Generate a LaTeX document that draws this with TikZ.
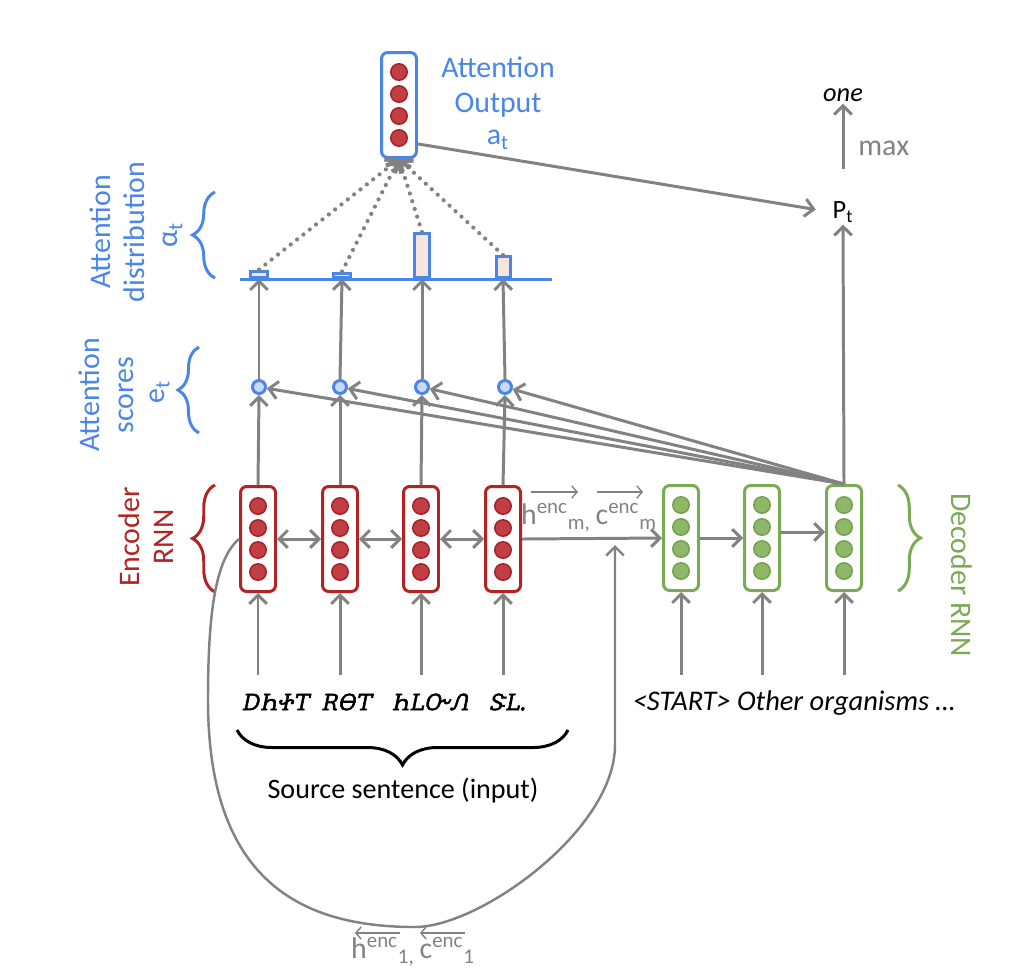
\documentclass[tikz,border=0pt]{standalone}
\usepackage{fontspec}
\setmainfont{Carlito}
\IfFontExistsTF{Noto Sans Cherokee}{%
  \newfontfamily\cherfont{Noto Sans Cherokee}[FakeSlant=0.2,FakeBold=2.5]%
  \newcommand\wordA{ᎠᏂᏐᎢ}\newcommand\wordB{ᎡᎾᎢ}\newcommand\wordC{ᏂᏞᏅᏁ}\newcommand\wordD{ᏕᏞ.}%
}{%
  \newfontfamily\cherfont{DejaVu Sans}[FakeSlant=0.2,FakeBold=2.5]%
  \newcommand\wordA{Dh+T}\newcommand\wordB{RΘT}\newcommand\wordC{hLÕΛ}\newcommand\wordD{SL.}%
}
\usetikzlibrary{arrows.meta,decorations.pathreplacing,calc}
\definecolor{gr}{RGB}{130,130,130}
\definecolor{bl}{RGB}{74,134,232}
\definecolor{encred}{RGB}{180,35,35}
\definecolor{encfill}{RGB}{192,62,68}
\definecolor{encdark}{RGB}{165,30,35}
\definecolor{decgreen}{RGB}{122,171,84}
\definecolor{decfill}{RGB}{142,183,104}
\definecolor{decdark}{RGB}{112,160,76}
\definecolor{barfill}{RGB}{246,229,219}
\definecolor{scfill}{RGB}{201,218,248}
\begin{document}
\begin{tikzpicture}[x=0.02cm,y=-0.02cm,
  tip/.tip={Straight Barb[length=5pt,width=10pt]},
  arr/.style={draw=gr,line width=1.7pt,-tip},
  darr/.style={draw=gr,line width=1.7pt,tip-tip},
  tarr/.style={draw=gr,line width=0.8pt,-{Straight Barb[length=3pt,width=7pt]}},
  dotarr/.style={draw=gr,line width=2.4pt,line cap=round,dash pattern=on 0pt off 4.6pt,-tip},
  cellbox/.style={line width=1.7pt,rounded corners=3.5pt,minimum width=0.70cm,minimum height=2.10cm,fill=white,inner sep=0pt},
  encbox/.style={cellbox,draw=encred},
  decbox/.style={cellbox,draw=decgreen},
  attbox/.style={cellbox,draw=bl},
  encdot/.style={circle,fill=encfill,draw=encdark,line width=0.8pt,minimum size=0.33cm,inner sep=0pt},
  decdot/.style={circle,fill=decfill,draw=decdark,line width=0.8pt,minimum size=0.33cm,inner sep=0pt},
  score/.style={circle,draw=bl,fill=scfill,line width=1.7pt,minimum size=0.26cm,inner sep=0pt},
  bar/.style={draw=bl,fill=barfill,line width=1.7pt,inner sep=0pt,anchor=south},
  bluetxt/.style={text=bl,font=\fontsize{17}{19.5}\selectfont,align=center,inner sep=0pt},
  redtxt/.style={text=encred,font=\fontsize{17}{19.5}\selectfont,align=center,inner sep=0pt},
  greentxt/.style={text=decgreen,font=\fontsize{17}{19.5}\selectfont,align=center,inner sep=0pt},
  graytxt/.style={text=gr,font=\fontsize{17}{19.5}\selectfont,inner sep=0pt},
  brc/.style={decorate,decoration={brace,amplitude=0.45cm},line width=1.7pt},
  cher/.style={font=\cherfont\fontsize{13}{15}\selectfont,inner sep=0pt}
]
\useasboundingbox (0,0) rectangle (1016,978);

% ---------- encoder cells ----------
\foreach \i/\x in {1/258,2/340,3/421,4/503}{
  \node[encbox] (e\i) at (\x,539) {};
  \foreach \j/\dy in {1/-33,2/-11,3/11,4/33}
    \node[encdot] (e\i-\j) at (\x,539+\dy) {};
}
% ---------- decoder cells ----------
\foreach \i/\x in {1/681,2/762,3/844}{
  \node[decbox] (d\i) at (\x,538) {};
  \foreach \j/\dy in {1/-33,2/-11,3/11,4/33}
    \node[decdot] (d\i-\j) at (\x,538+\dy) {};
}
% ---------- attention output ----------
\node[attbox] (ao) at (399,105) {};
\foreach \j/\dy in {1/-33,2/-11,3/11,4/33}
  \node[encdot] (ao-\j) at (399,105+\dy) {};

% ---------- attention scores ----------
\node[score] (s1) at (259,387) {};
\node[score] (s2) at (340,387) {};
\node[score] (s3) at (422,387) {};
\node[score] (s4) at (505,387) {};

% ---------- attention distribution ----------
\node[bar,minimum width=0.34cm,minimum height=0.13cm] (b1) at (259,279) {};
\node[bar,minimum width=0.34cm,minimum height=0.09cm] (b2) at (342,279) {};
\node[bar,minimum width=0.30cm,minimum height=0.88cm] (b3) at (422,279) {};
\node[bar,minimum width=0.28cm,minimum height=0.42cm] (b4) at (503,279) {};
\coordinate (axL) at (240,279);
\coordinate (axR) at (552,279);
\draw[bl,line width=1.7pt] (axL) -- (axR);

% ---------- words ----------
\foreach \i/\x in {1/258,2/340,3/421,4/503}
  \coordinate (in\i) at (\x,675);
\foreach \i/\x in {1/681,2/762,3/844}
  \coordinate (din\i) at (\x,675);
\node[cher] (w1) at (275,702) {\wordA};
\node[cher] (w2) at (346,702) {\wordB};
\node[cher] (w3) at (430,702) {\wordC};
\node[cher] (w4) at (507,702) {\wordD};
\node[font=\itshape\fontsize{16.2}{19}\selectfont,inner sep=0pt] (tgt) at (794,703) {<START> Other organisms …};
\coordinate (sbL) at (237,730);
\coordinate (sbR) at (568,730);
\draw[brc,decoration={amplitude=0.7cm}] (sbR) -- (sbL);
\node[font=\fontsize{16}{19}\selectfont,inner sep=0pt] (src) at (403,790) {Source sentence (input)};

% ---------- output ----------
\node[font=\fontsize{15}{18}\selectfont,inner sep=1pt] (pt) at (843,212) {P\textsubscript{t}};
\node[font=\itshape\fontsize{15}{18}\selectfont,inner sep=1pt] (one) at (843,95) {one};
\node[graytxt,anchor=west] (max) at (858,148) {max};

% ---------- side labels ----------
\node[bluetxt] (aolbl) at (498,87) {Attention\\Output};
\node[bluetxt] (atlbl) at (498,140) {a\textsubscript{t}};
\node[bluetxt,rotate=90] (distlbl) at (117,232) {Attention\\distribution};
\node[bluetxt,rotate=90] (alpha) at (173,235) {α\textsubscript{t}};
\node[bluetxt,rotate=90] (scorelbl) at (106,395) {Attention\\scores};
\node[bluetxt,rotate=90] (etlbl) at (160,392) {e\textsubscript{t}};
\node[redtxt,rotate=90] (enclbl) at (146,537) {Encoder\\RNN};
\node[greentxt,rotate=-90] (declbl) at (962,575) {Decoder RNN};

\draw[brc,bl] (215,278) -- (215,192);
\draw[brc,bl,decoration={amplitude=0.42cm}] (199,433) -- (199,347);
\draw[brc,encred] (215,592) -- (215,485);
\draw[brc,decgreen] (898,485) -- (898,591);

% ---------- state labels ----------
\node[graytxt] (hm) at (589,518) {h\textsuperscript{enc}\textsubscript{m,}\,c\textsuperscript{enc}\textsubscript{m}};
\draw[tarr] (531,492) -- (578,492);
\draw[tarr] (597,492) -- (643,492);
\node[graytxt] (h1) at (413,952) {h\textsuperscript{enc}\textsubscript{1,}\,c\textsuperscript{enc}\textsubscript{1}};
\draw[tarr] (400,933) -- (355,933);
\draw[tarr] (465,933) -- (420,933);

% ---------- connectors ----------
\foreach \i in {1,2,3,4}{
  \draw[arr] (in\i) -- (e\i.south);
  \draw[arr] (e\i.north) -- (s\i.south);
  \draw[arr] (s\i.north) -- (b\i.south);
  \draw[dotarr] (b\i.north) -- (ao.south);
  \draw[arr] (d3.north) -- (s\i);
}
\foreach \i in {1,2,3}
  \draw[arr] (din\i) -- (d\i.south);
\draw[darr] (e1.east) -- (e2.west);
\draw[darr] (e2.east) -- (e3.west);
\draw[darr] (e3.east) -- (e4.west);
\draw[arr] (e4.east) -- (d1.west);
\draw[arr] (d1.east) -- (d2.west);
\draw[arr] ([yshift=0.12cm]d2.east) -- ([yshift=0.12cm]d3.west);
\draw[arr] (d3.north) -- (pt.south);
\draw[arr,shorten <=0.6cm] (pt.north) -- (one.south);
\draw[arr,shorten >=0.3cm] (ao.-64) -- (pt.west);
\coordinate (hj) at (615,545);
\draw[arr,line width=1.4pt] (e1.west) .. controls (214,560) and (208,620) .. (208,700)
  .. controls (208,880) and (300,927) .. (415,927)
  .. controls (480,927) and (615,830) .. (615,745) -- (hj);
\end{tikzpicture}
\end{document}
